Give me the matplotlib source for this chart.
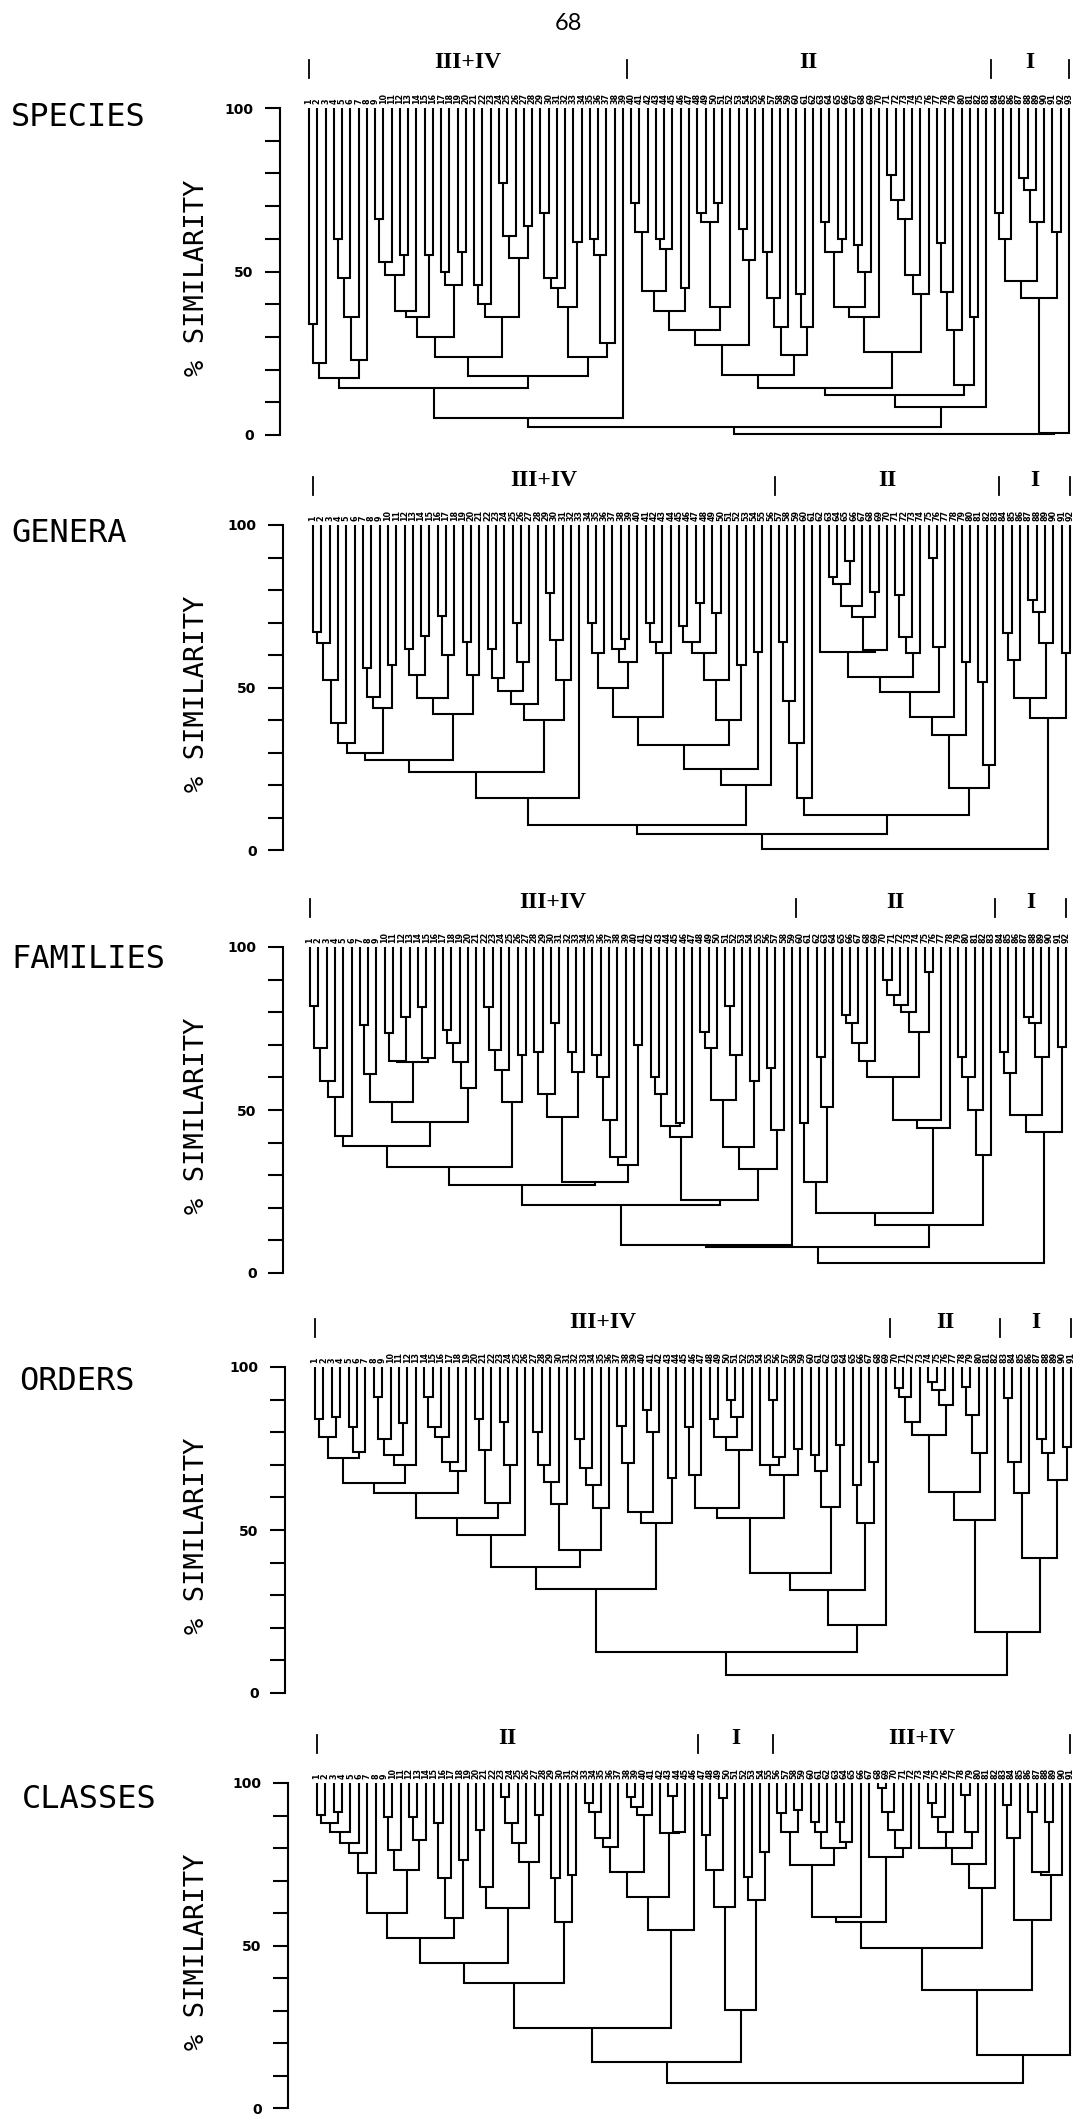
import numpy as np
import matplotlib.pyplot as plt

# Similarity (%) at which each leaf joins its right-hand neighbour.
# Leaves are listed left to right; a panel with n leaves has n-1 values.
species_gaps = [34, 22, 17.5, 60, 48, 36, 23, 14.5, 66, 53, 49, 55, 38, 36, 55, 30, 50, 46, 56, 24,
                46, 40, 36, 77, 61, 54, 64, 18, 68, 48, 45, 39, 59, 24, 60, 55, 28, 5.1,
                2.5,
                71, 62, 44, 60, 57, 38, 45, 32, 68, 65, 71, 39, 27.5, 63, 53.5, 18.3, 56, 42, 33, 24.5,
                43, 33, 14.3, 65, 56, 60, 39, 58, 50, 36, 25.5, 79.5, 72, 66, 49, 43, 12.2,
                58.6, 43.8, 32, 15.3, 36, 8.6,
                0.4,
                68, 60, 47, 78.5, 75, 65, 41.8, 62, 0.6]
species_groups = ['III+IV', 'II', 'I']
species_sizes = [39, 44, 10]

genera_gaps = [67, 63.6, 52.3, 39, 33, 29.7, 56, 47, 43.6, 57, 27.7, 62, 53.8, 66, 46.7, 72, 60, 41.8,
               64, 54, 24.1, 62, 53, 49, 70, 58, 45, 40, 79, 64.6, 52.3, 15.9,
               7.7,
               70, 60.5, 50, 62, 65, 58, 41, 70, 64, 60.5, 32.3, 69, 64, 76, 60.5, 73, 52.3, 40, 57, 25, 61, 20,
               4.8,
               64, 46, 32.8, 15.9, 10.8, 61, 84, 82, 89, 75, 71.8, 79.5, 61.5, 53.3, 78.5, 65.6, 60.5,
               48.7, 89.7, 62.6, 41, 35.4, 58, 19, 51.8, 26.2,
               0.2,
               66.7, 58.5, 46.7, 77, 73.3, 63.6, 40.5, 60.5]
genera_groups = ['III+IV', 'II', 'I']
genera_sizes = [56, 27, 9]

families_gaps = [82, 69, 59, 54, 42, 39, 76, 61, 52.5, 73.5, 65, 78.6, 64.8, 81.7, 66, 46.4, 74.5, 70.4,
                 64.8, 56.6, 32.6, 81.7, 68.4, 62.3, 52.5, 66.9, 27, 67.9, 55, 76.6, 48, 67.9, 61.8, 28,
                 66.9, 60, 47, 35.7, 33, 70, 20.9, 60, 55, 45, 46, 41.8, 22.4, 74, 69, 53, 82, 67, 38.8,
                 59, 32, 62.8, 43.9, 8.6,
                 8,
                 46, 28, 66.4, 51, 18.3, 79, 76.6, 70.4, 65, 60, 89.9, 85.3, 82.2, 80, 74, 92.4, 47, 44.4,
                 14.7, 66.4, 60, 50, 36.2,
                 3,
                 67.9, 61.2, 48.5, 78.6, 76.6, 66.4, 43.4, 69.4]
families_groups = ['III+IV', 'II', 'I']
families_sizes = [59, 24, 9]

orders_gaps = [84.2, 78.6, 84.8, 72, 81.7, 74, 64.5, 90.9, 78, 73, 82.7, 70, 61.2, 90.9, 81.7, 78.6, 71,
               68, 53.6, 84.2, 74.5, 58.2, 83.2, 70, 48.5, 38.8, 80, 70, 64.8, 58, 43.9, 78, 69, 63.8, 56.6,
               32, 82, 70.5, 55.6, 86.8, 80, 52, 66,
               12.7,
               81.7, 66.9, 56.6, 84.2, 78.6, 89.9, 84.8, 74.5, 53.6, 70, 89.9, 72.5, 66.9, 75, 36.7, 73,
               68, 57.2, 76, 31.6, 63.8, 52, 71, 20.9,
               5.5,
               93.5, 90.9, 83.2, 79.1, 95.5, 93, 88.3, 61.8, 94, 85.3, 73.6, 53,
               18.8,
               90.4, 71, 61.2, 41.3, 78, 73.5, 65.3, 75.6]
orders_groups = ['III+IV', 'II', 'I']
orders_sizes = [69, 13, 9]

classes_gaps = [90.2, 87.6, 91, 85, 81.4, 78.4, 72.2, 59.9, 89.6, 79.4, 73.2, 89.6, 82.5, 52.2, 87.6,
                70.7, 58.4, 76.3, 44.5, 85.5, 68.1, 61.4, 95.8, 87.6, 81.4, 75.8, 90.2, 38.4, 70.7, 57.3,
                71.7, 24.5,
                93.7, 91.2, 83, 80.4, 72.7, 95.8, 92.7, 90.2, 65, 84.5, 96, 85, 54.8,
                14.3,
                84, 73.2, 95.3, 62, 30.2, 71.2, 64, 78.9,
                7.6,
                90.7, 85, 91.7, 74.8, 88.1, 85, 79.9, 88.1, 82, 58.9, 57.3, 77.3, 98.4, 91.2, 85.5, 80,
                49.1, 80, 93.7, 89.6, 85, 79.9, 96.3, 85, 75, 67.6, 36.3, 93.2, 83, 57.8, 91.2, 72.7,
                88.1, 71.7, 16.3]
classes_groups = ['II', 'I', 'III+IV']
classes_sizes = [46, 9, 36]

sim_ticks = [0, 10, 20, 30, 40, 50, 60, 70, 80, 90, 100]
sim_labels = ['0', '', '', '', '', '50', '', '', '', '', '100']

# page geometry in pixels (1074 x 2120)
W, H = 1074, 2120
panels = [
    ('SPECIES', species_gaps, species_groups, species_sizes, 280, 108, 435, 309, 1069, 11, 118),
    ('GENERA', genera_gaps, genera_groups, genera_sizes, 283, 525, 850, 313, 1070, 11, 534),
    ('FAMILIES', families_gaps, families_groups, families_sizes, 283, 947, 1273, 310, 1066, 11, 959),
    ('ORDERS', orders_gaps, orders_groups, orders_sizes, 285, 1367, 1693, 315, 1071, 19, 1382),
    ('CLASSES', classes_gaps, classes_groups, classes_sizes, 288, 1783, 2108, 317, 1070, 22, 1799),
]


def draw_tree(ax, gaps, lo, hi):
    # split the leaf run at its lowest join, draw both halves, then the joining bracket
    if lo == hi:
        return lo, 100.0
    k = lo + int(np.argmin(gaps[lo:hi]))
    xl, hl = draw_tree(ax, gaps, lo, k)
    xr, hr = draw_tree(ax, gaps, k + 1, hi)
    h = gaps[k]
    ax.plot([xl, xl, xr, xr], [hl, h, h, hr], color='black', lw=1.5,
            solid_joinstyle='miter', solid_capstyle='butt', clip_on=False)
    return (xl + xr) / 2, h


fig = plt.figure(figsize=(W / 100, H / 100), dpi=100)
fig.text(568 / W, 1 - 24 / H, '68', fontsize=17, family='Lato', ha='center', va='center')

for name, gaps, groups, sizes, spine, top, bottom, first, last, tx, ty in panels:
    n = len(gaps) + 1
    step = (last - first) / (n - 1)
    pps = (bottom - top) / 100.0

    ax = fig.add_axes([spine / W, 1 - bottom / H, (W - spine) / W, (bottom - top) / H])
    ax.set_xlim((spine - first) / step, (W - first) / step)
    ax.set_ylim(0, 100)
    for s in ['top', 'right', 'bottom']:
        ax.spines[s].set_visible(False)
    ax.spines['left'].set_linewidth(1.5)
    ax.set_xticks([])
    ax.set_yticks(sim_ticks)
    ax.set_yticklabels(sim_labels, fontweight='bold', fontsize=10)
    ax.tick_params(axis='y', direction='out', length=11, width=1.5, pad=8)

    draw_tree(ax, gaps, 0, n - 1)

    # station numbers above the leaves
    for i in range(n):
        ax.text(i, 100 + 4 / pps, str(i + 1), rotation=90, fontsize=5.8, fontweight='bold',
                ha='center', va='bottom', clip_on=False)

    # group brackets and names
    cum = np.cumsum(sizes)
    seps = [0] + [c - 0.5 for c in cum[:-1]] + [n - 1]
    for xs in seps:
        ax.plot([xs, xs], [100 + 30 / pps, 100 + 48 / pps], color='black', lw=1.3, clip_on=False)
    for g, a, b in zip(groups, seps[:-1], seps[1:]):
        ax.text((a + b) / 2, 100 + 45 / pps, g, fontsize=17, family='Liberation Serif',
                fontweight='bold', ha='center', va='center', clip_on=False)

    fig.text(tx / W, 1 - ty / H, name, fontsize=23, family='DejaVu Sans Mono',
             ha='left', va='center')
    fig.text(197 / W, 1 - ((top + bottom) / 2 + 6) / H, '% SIMILARITY', rotation=90,
             fontsize=19.5, family='DejaVu Sans Mono', ha='center', va='center')

fig.savefig('out.png', dpi=100)
